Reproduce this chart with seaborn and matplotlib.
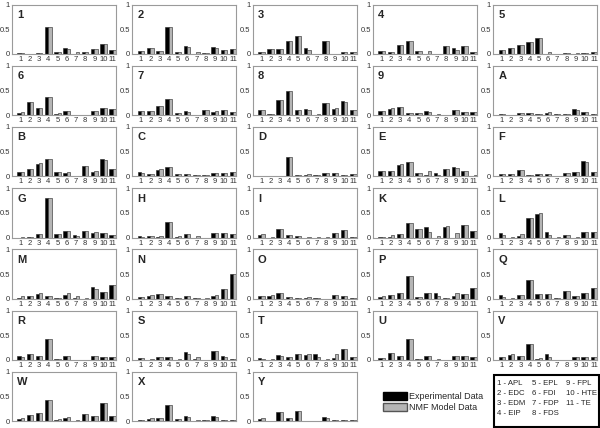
import pandas as pd
import numpy as np
import seaborn as sns
import matplotlib.pyplot as plt
from matplotlib.patches import Patch, Rectangle

# synergy panels
panels = ['1', '2', '3', '4', '5', '6', '7', '8', '9', 'A', 'B', 'C', 'D', 'E', 'F',
          'G', 'H', 'I', 'K', 'L', 'M', 'N', 'O', 'P', 'Q', 'R', 'S', 'T', 'U', 'V',
          'W', 'X', 'Y']
muscles = ['1', '2', '3', '4', '5', '6', '7', '8', '9', '10', '11']
muscle_names = ['APL', 'EDC', 'EDM', 'EIP', 'EPL', 'FDI', 'FDP', 'FDS', 'FPL', 'HTE', 'TE']

experimental = {
    '1': [0.03, 0.01, 0.02, 0.55, 0.04, 0.12, 0.00, 0.04, 0.11, 0.21, 0.09],
    '2': [0.07, 0.12, 0.07, 0.55, 0.04, 0.16, 0.00, 0.02, 0.14, 0.09, 0.11],
    '3': [0.05, 0.11, 0.11, 0.26, 0.36, 0.13, 0.00, 0.27, 0.00, 0.05, 0.04],
    '4': [0.06, 0.05, 0.18, 0.26, 0.07, 0.01, 0.00, 0.17, 0.12, 0.16, 0.05],
    '5': [0.09, 0.13, 0.19, 0.25, 0.33, 0.00, 0.00, 0.02, 0.00, 0.03, 0.05],
    '6': [0.05, 0.27, 0.15, 0.36, 0.03, 0.09, 0.00, 0.00, 0.09, 0.15, 0.12],
    '7': [0.09, 0.09, 0.19, 0.32, 0.04, 0.09, 0.00, 0.11, 0.07, 0.11, 0.07],
    '8': [0.10, 0.03, 0.30, 0.49, 0.10, 0.13, 0.00, 0.25, 0.12, 0.28, 0.10],
    '9': [0.08, 0.13, 0.16, 0.05, 0.04, 0.09, 0.00, 0.00, 0.11, 0.07, 0.06],
    'A': [0.03, 0.01, 0.05, 0.04, 0.03, 0.05, 0.03, 0.03, 0.12, 0.07, 0.02],
    'B': [0.08, 0.14, 0.26, 0.36, 0.08, 0.07, 0.00, 0.22, 0.09, 0.35, 0.15],
    'C': [0.08, 0.05, 0.13, 0.19, 0.05, 0.05, 0.03, 0.02, 0.07, 0.07, 0.09],
    'D': [0.00, 0.00, 0.01, 0.39, 0.03, 0.03, 0.03, 0.07, 0.07, 0.02, 0.04],
    'E': [0.11, 0.10, 0.24, 0.30, 0.07, 0.03, 0.06, 0.14, 0.18, 0.11, 0.00],
    'F': [0.05, 0.05, 0.13, 0.03, 0.05, 0.04, 0.00, 0.07, 0.08, 0.31, 0.09],
    'G': [0.00, 0.01, 0.08, 0.80, 0.07, 0.14, 0.05, 0.14, 0.10, 0.10, 0.06],
    'H': [0.03, 0.04, 0.02, 0.31, 0.02, 0.08, 0.00, 0.00, 0.10, 0.09, 0.07],
    'I': [0.05, 0.00, 0.17, 0.05, 0.03, 0.00, 0.00, 0.00, 0.09, 0.15, 0.01],
    'K': [0.01, 0.02, 0.07, 0.30, 0.18, 0.22, 0.00, 0.21, 0.00, 0.25, 0.13],
    'L': [0.09, 0.00, 0.03, 0.39, 0.48, 0.12, 0.00, 0.05, 0.00, 0.11, 0.12],
    'M': [0.01, 0.05, 0.10, 0.05, 0.02, 0.07, 0.01, 0.00, 0.24, 0.14, 0.28],
    'N': [0.04, 0.06, 0.09, 0.05, 0.02, 0.06, 0.01, 0.00, 0.05, 0.20, 0.50],
    'O': [0.05, 0.06, 0.11, 0.03, 0.02, 0.02, 0.02, 0.00, 0.07, 0.06, 0.01],
    'P': [0.03, 0.07, 0.12, 0.47, 0.04, 0.11, 0.12, 0.01, 0.06, 0.10, 0.21],
    'Q': [0.07, 0.00, 0.07, 0.37, 0.09, 0.10, 0.01, 0.15, 0.05, 0.11, 0.22],
    'R': [0.08, 0.12, 0.08, 0.43, 0.03, 0.09, 0.00, 0.00, 0.08, 0.07, 0.07],
    'S': [0.04, 0.01, 0.07, 0.07, 0.01, 0.16, 0.03, 0.00, 0.18, 0.08, 0.03],
    'T': [0.04, 0.01, 0.10, 0.06, 0.12, 0.11, 0.12, 0.01, 0.05, 0.22, 0.06],
    'U': [0.05, 0.14, 0.08, 0.42, 0.03, 0.08, 0.00, 0.00, 0.09, 0.09, 0.06],
    'V': [0.06, 0.11, 0.08, 0.33, 0.03, 0.12, 0.00, 0.01, 0.06, 0.07, 0.07],
    'W': [0.04, 0.12, 0.16, 0.42, 0.03, 0.06, 0.00, 0.14, 0.11, 0.37, 0.11],
    'X': [0.03, 0.05, 0.06, 0.33, 0.05, 0.11, 0.01, 0.02, 0.10, 0.03, 0.03],
    'Y': [0.04, 0.00, 0.18, 0.06, 0.21, 0.00, 0.00, 0.08, 0.03, 0.03, 0.03],
}

nmf_model = {
    '1': [0.02, 0.01, 0.02, 0.55, 0.04, 0.10, 0.04, 0.05, 0.11, 0.21, 0.09],
    '2': [0.06, 0.12, 0.07, 0.55, 0.05, 0.14, 0.04, 0.03, 0.13, 0.09, 0.11],
    '3': [0.05, 0.11, 0.11, 0.27, 0.36, 0.09, 0.01, 0.27, 0.01, 0.05, 0.04],
    '4': [0.07, 0.05, 0.19, 0.26, 0.07, 0.06, 0.01, 0.16, 0.09, 0.17, 0.05],
    '5': [0.09, 0.13, 0.19, 0.25, 0.33, 0.04, 0.01, 0.02, 0.03, 0.03, 0.05],
    '6': [0.07, 0.26, 0.15, 0.36, 0.04, 0.09, 0.01, 0.01, 0.09, 0.15, 0.12],
    '7': [0.08, 0.09, 0.19, 0.32, 0.04, 0.07, 0.01, 0.11, 0.08, 0.10, 0.07],
    '8': [0.11, 0.03, 0.30, 0.49, 0.10, 0.11, 0.02, 0.25, 0.14, 0.27, 0.11],
    '9': [0.08, 0.14, 0.17, 0.05, 0.04, 0.06, 0.02, 0.01, 0.11, 0.07, 0.06],
    'A': [0.02, 0.01, 0.05, 0.04, 0.03, 0.06, 0.03, 0.02, 0.10, 0.07, 0.02],
    'B': [0.09, 0.14, 0.27, 0.36, 0.08, 0.08, 0.00, 0.22, 0.10, 0.34, 0.15],
    'C': [0.07, 0.05, 0.14, 0.19, 0.05, 0.05, 0.02, 0.02, 0.07, 0.07, 0.09],
    'D': [0.01, 0.00, 0.01, 0.39, 0.03, 0.05, 0.03, 0.07, 0.06, 0.02, 0.04],
    'E': [0.11, 0.10, 0.26, 0.30, 0.07, 0.10, 0.03, 0.14, 0.16, 0.11, 0.03],
    'F': [0.05, 0.05, 0.13, 0.03, 0.05, 0.04, 0.01, 0.07, 0.08, 0.30, 0.08],
    'G': [0.02, 0.01, 0.07, 0.80, 0.08, 0.14, 0.03, 0.14, 0.11, 0.10, 0.06],
    'H': [0.02, 0.04, 0.03, 0.31, 0.03, 0.08, 0.03, 0.00, 0.10, 0.09, 0.07],
    'I': [0.07, 0.01, 0.17, 0.05, 0.03, 0.01, 0.01, 0.01, 0.10, 0.15, 0.01],
    'K': [0.02, 0.05, 0.07, 0.30, 0.18, 0.12, 0.03, 0.24, 0.09, 0.25, 0.13],
    'L': [0.06, 0.02, 0.08, 0.40, 0.50, 0.05, 0.02, 0.05, 0.02, 0.11, 0.12],
    'M': [0.05, 0.05, 0.11, 0.05, 0.02, 0.11, 0.05, 0.01, 0.20, 0.14, 0.28],
    'N': [0.04, 0.07, 0.09, 0.05, 0.02, 0.05, 0.01, 0.01, 0.08, 0.20, 0.50],
    'O': [0.05, 0.07, 0.12, 0.03, 0.02, 0.03, 0.01, 0.00, 0.07, 0.06, 0.02],
    'P': [0.05, 0.08, 0.11, 0.47, 0.04, 0.11, 0.05, 0.02, 0.12, 0.10, 0.21],
    'Q': [0.04, 0.01, 0.08, 0.37, 0.09, 0.09, 0.01, 0.16, 0.06, 0.11, 0.22],
    'R': [0.06, 0.12, 0.08, 0.43, 0.03, 0.08, 0.01, 0.01, 0.08, 0.07, 0.07],
    'S': [0.04, 0.02, 0.07, 0.07, 0.02, 0.13, 0.06, 0.01, 0.19, 0.07, 0.02],
    'T': [0.03, 0.02, 0.09, 0.07, 0.12, 0.12, 0.07, 0.02, 0.12, 0.22, 0.06],
    'U': [0.05, 0.14, 0.08, 0.42, 0.03, 0.08, 0.02, 0.01, 0.09, 0.09, 0.06],
    'V': [0.06, 0.12, 0.08, 0.33, 0.05, 0.07, 0.01, 0.01, 0.07, 0.07, 0.07],
    'W': [0.06, 0.12, 0.16, 0.42, 0.04, 0.08, 0.02, 0.14, 0.10, 0.37, 0.11],
    'X': [0.03, 0.06, 0.07, 0.33, 0.05, 0.09, 0.03, 0.03, 0.09, 0.03, 0.03],
    'Y': [0.06, 0.01, 0.18, 0.07, 0.21, 0.01, 0.01, 0.06, 0.03, 0.03, 0.02],
}

sns.set_style('white')
plt.rcParams['font.family'] = ['Liberation Sans', 'DejaVu Sans']

gray_bar = '#b5b5b5'
fig = plt.figure(figsize=(6, 4.28), dpi=100)

# panel grid in pixels
W, H = 600, 428
col_step, row_step = 120.3, 61.2
ax_w, ax_h = 104, 49.5

for k, name in enumerate(panels):
    r, c = divmod(k, 5)
    left = (12 + c * col_step) / W
    bottom = 1 - (54 + r * row_step) / H
    ax = fig.add_axes([left, bottom, ax_w / W, ax_h / H])

    df = pd.DataFrame({
        'muscle': muscles * 2,
        'value': experimental[name] + nmf_model[name],
        'source': ['Experimental'] * 11 + ['NMF'] * 11,
    })
    sns.barplot(data=df, x='muscle', y='value', hue='source', order=muscles,
                palette=['black', gray_bar], edgecolor='#222222', linewidth=0.4,
                width=0.72, legend=False, ax=ax)

    ax.set_xlim(-0.95, 10.35)
    ax.set_ylim(0, 1)
    ax.set_yticks([0, 0.5, 1])
    ax.set_yticklabels(['0', '0.5', '1'])
    ax.set_xlabel('')
    ax.set_ylabel('')
    ax.tick_params(axis='both', length=0, labelsize=5.5, colors='#333333', pad=1.5)
    if r == 6:
        ax.set_xticklabels([])
    for s in ax.spines.values():
        s.set_color('#9a9a9a')
        s.set_linewidth(0.8)
    ax.text(0.05, 0.89, name, transform=ax.transAxes, fontsize=8,
            fontweight='bold', va='top', ha='left')

# data legend
handles = [Patch(facecolor='black', edgecolor='black'),
           Patch(facecolor=gray_bar, edgecolor='#555555')]
fig.legend(handles, ['Experimental Data', 'NMF Model Data'],
           loc='upper left', bbox_to_anchor=(378 / W, 1 - 387 / H),
           frameon=False, fontsize=6.5, handlelength=2.7, handleheight=1.0,
           handletextpad=0.25, labelspacing=0.3, borderpad=0)

# muscle key
fig.add_artist(Rectangle((494 / W, 1 - 427 / H), 105 / W, 52 / H,
                         transform=fig.transFigure, fill=False,
                         edgecolor='black', linewidth=1.5))
key_cols = [[0, 1, 2, 3], [4, 5, 6, 7], [8, 9, 10]]
key_x = [497, 532, 566]
for xs, idx in zip(key_x, key_cols):
    txt = '\n'.join(f'{i + 1} - {muscle_names[i]}' for i in idx)
    fig.text(xs / W, 1 - 380 / H, txt, fontsize=5.6, va='top', ha='left',
             linespacing=1.6)

fig.savefig('out.png', dpi=100)
